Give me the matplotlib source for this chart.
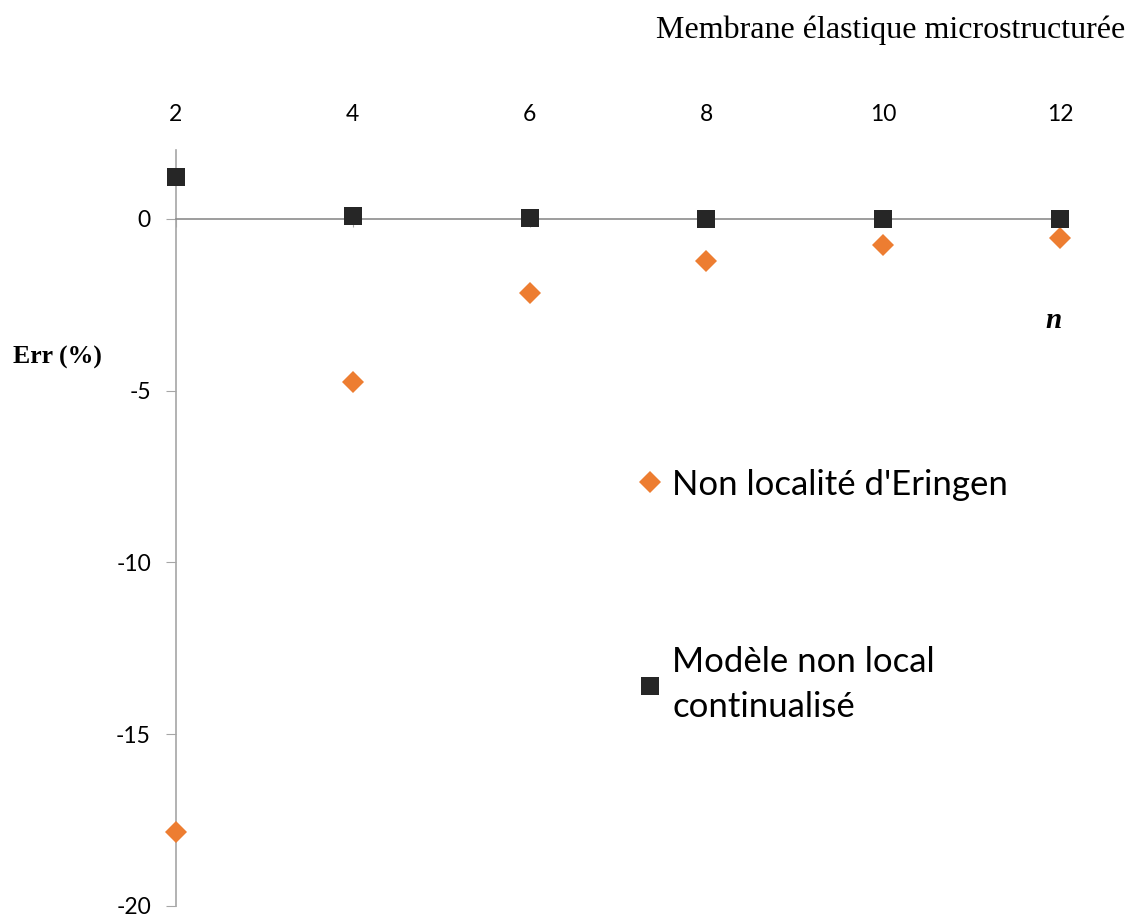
import matplotlib.pyplot as plt

# data
n_values = [2, 4, 6, 8, 10, 12]
err_eringen = [-17.85, -4.75, -2.15, -1.23, -0.76, -0.55]
err_continualise = [1.22, 0.08, 0.03, 0.0, 0.0, 0.0]
y_ticks = [-20, -15, -10, -5, 0]

label_eringen = "Non localité d'Eringen"
label_continu = "Modèle non local\ncontinualisé"

orange = '#ED7D31'
dark = '#262626'
axis_gray = '#A6A6A6'
sans = ['Lato', 'DejaVu Sans']
serif = ['Liberation Serif', 'DejaVu Serif']

plt.rcParams['axes.unicode_minus'] = False

fig = plt.figure(figsize=(11.39, 9.21), dpi=100)
ax = fig.add_axes([0.1545, 0.0163, 0.7761, 0.8208])

ax.plot(n_values, err_eringen, linestyle='none', marker='D', markersize=11.5,
        color=orange, markeredgewidth=0, label=label_eringen, clip_on=False, zorder=3)
ax.plot(n_values, err_continualise, linestyle='none', marker='s', markersize=13,
        color=dark, markeredgewidth=0, label=label_continu, clip_on=False, zorder=3)

ax.set_xlim(2, 12)
ax.set_ylim(-20, 2)
ax.set_xticks(n_values)
ax.set_yticks(y_ticks)

# x axis line sits at y = 0, labels go on top
ax.spines['bottom'].set_position(('data', 0))
ax.spines['top'].set_visible(False)
ax.spines['right'].set_visible(False)
ax.spines['bottom'].set_color('#8C8C8C')
ax.spines['left'].set_color(axis_gray)
ax.spines['bottom'].set_linewidth(1.2)
ax.spines['left'].set_linewidth(1.2)

ax.tick_params(axis='x', bottom=True, top=False, labelbottom=False, labeltop=True,
               direction='out', length=6, color=axis_gray, pad=12, labelsize=16.5)
ax.tick_params(axis='y', direction='out', length=7, color=axis_gray, pad=11, labelsize=16.5)
for lab in ax.get_xticklabels() + ax.get_yticklabels():
    lab.set_family(sans)

fig.text(0.988, 0.967, 'Membrane élastique microstructurée', ha='right', va='center',
         family=serif, fontsize=23)
fig.text(0.011, 0.612, 'Err (%)', ha='left', va='center', family=serif,
         fontsize=18.5, fontweight='bold')
fig.text(0.925, 0.652, 'n', ha='center', va='center', family=serif,
         fontsize=21, fontweight='bold', style='italic')

leg = ax.legend(loc='upper left', bbox_to_anchor=(0.487, 0.62), frameon=False,
                prop={'family': sans, 'size': 25}, labelspacing=4.2,
                handlelength=0.7, handletextpad=0.3, markerscale=1.0)
for t in leg.get_texts():
    t.set_linespacing(1.5)

fig.savefig('out.png', dpi=100)
